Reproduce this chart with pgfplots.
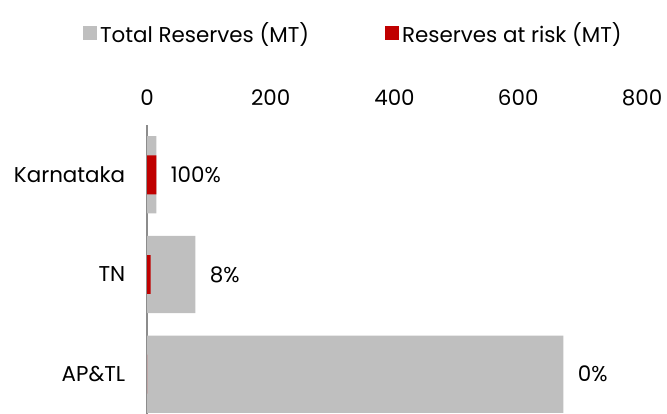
\documentclass[border=0pt]{standalone}
\usepackage{fontspec}
\setmainfont{Poppins}
\usepackage{pgfplots}
\pgfplotsset{compat=1.18}
\definecolor{barGray}{HTML}{BFBFBF}
\definecolor{barRed}{HTML}{C00000}
\definecolor{axGray}{HTML}{8C8C8C}
\begin{document}
\begin{tikzpicture}
\begin{axis}[
  at={(147bp,0bp)}, anchor=south west,
  scale only axis, width=495bp, height=289bp,
  xmin=0, xmax=800, ymin=-0.5, ymax=2.4, y dir=reverse,
  xtick={0,200,400,600,800},
  ytick={0,1,2}, yticklabels={Karnataka,TN,AP\&TL},
  axis x line*=top, axis y line*=left,
  x axis line style={draw=none},
  y axis line style={draw=axGray, line width=2.5bp, -},
  tick style={draw=none},
  font=\fontsize{21.5}{24}\selectfont,
  /pgf/number format/assume math mode=true,
  xticklabel style={anchor=south, yshift=16bp},
  yticklabel style={anchor=east, xshift=-14bp},
  xbar, bar shift=0pt,
  clip=false,
  legend columns=2,
  legend style={at={(0.418,1.318)}, anchor=center, draw=none, fill=none,
    font=\fontsize{21.5}{24}\selectfont,
    /tikz/every even column/.append style={column sep=72bp},
    nodes={inner sep=3.5bp}},
  legend image code/.code={\fill (0bp,-7bp) rectangle (14bp,7bp);},
]
\addplot[fill=barGray, draw=none, bar width=0.775,
  nodes near coords, point meta=explicit symbolic,
  every node near coord/.append style={anchor=west, xshift=11bp, font=\fontsize{21.5}{24}\selectfont, text=black}]
  coordinates {(15,0) [100\%] (78,1) [8\%] (673,2) [0\%]};
\addlegendentry{Total Reserves (MT)}
\addplot[fill=barRed, draw=none, bar width=0.39]
  coordinates {(15,0) (6,1) (0,2)};
\addlegendentry{Reserves at risk (MT)}
\end{axis}
\pgfresetboundingbox
\path (0,0) rectangle (667bp,414bp);
\end{tikzpicture}
\end{document}
